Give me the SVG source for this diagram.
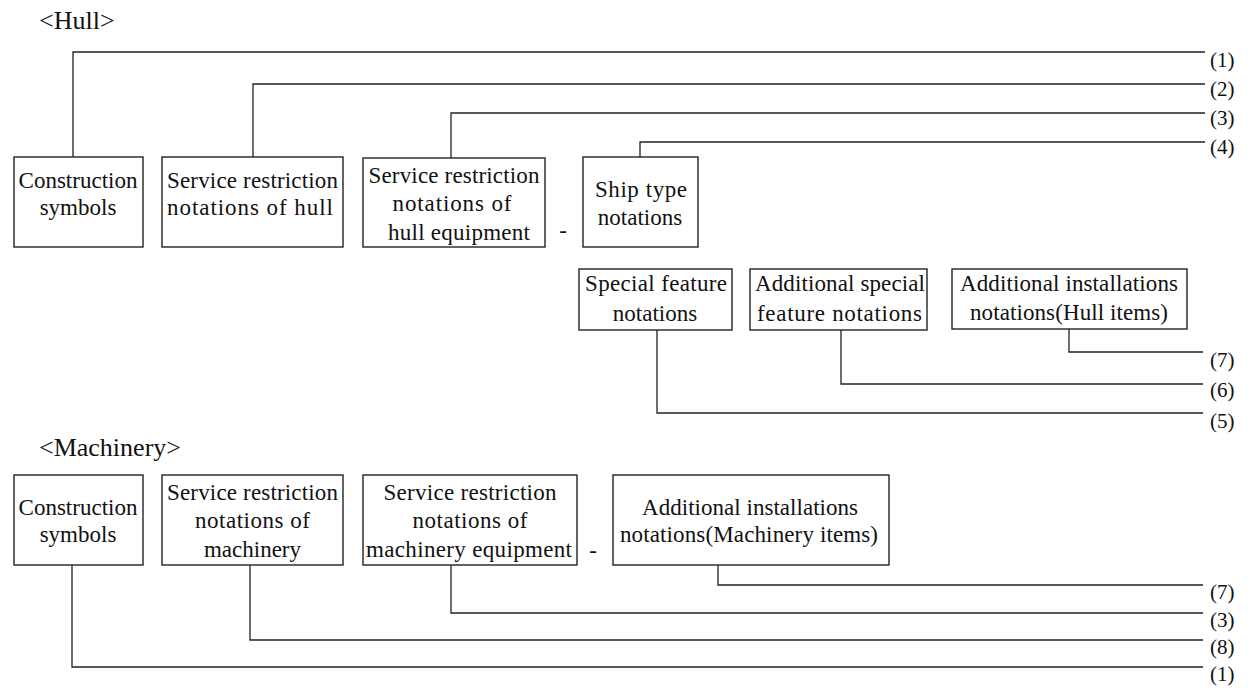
<svg xmlns="http://www.w3.org/2000/svg" width="1254" height="699" viewBox="0 0 1254 699" font-family="'Liberation Serif', 'DejaVu Serif', serif">
<style>
text{font-family:'Liberation Serif','DejaVu Serif',serif;fill:#111}
.t{font-size:23px;text-anchor:middle}
.h{font-size:26px}
.l{font-size:21px}
.d{font-size:23px;text-anchor:middle}
rect{fill:#fff;stroke:#222;stroke-width:1.4}
#connectors path{fill:none;stroke:#222;stroke-width:1.3}
</style>
<rect x="0" y="0" width="1254" height="699" style="fill:#fff;stroke:none"/>
<text class="h" x="39" y="29">&lt;Hull&gt;</text>
<text class="h" x="39" y="456">&lt;Machinery&gt;</text>

<g id="connectors">
<path d="M73,157V52H1205"/>
<path d="M253,157V84H1205"/>
<path d="M451,158V113H1205"/>
<path d="M640,157V142H1205"/>
<path d="M1069,329V352H1203"/>
<path d="M841,330V384H1203"/>
<path d="M657,330V413H1203"/>
<path d="M718,565V585H1203"/>
<path d="M451,565V613H1203"/>
<path d="M250,565V640H1203"/>
<path d="M72,565V667H1203"/>
</g>

<g id="labels">
<text class="l" x="1210" y="67">(1)</text>
<text class="l" x="1210" y="96">(2)</text>
<text class="l" x="1210" y="125">(3)</text>
<text class="l" x="1210" y="154">(4)</text>
<text class="l" x="1210" y="367">(7)</text>
<text class="l" x="1210" y="397">(6)</text>
<text class="l" x="1210" y="428">(5)</text>
<text class="l" x="1210" y="599">(7)</text>
<text class="l" x="1210" y="627">(3)</text>
<text class="l" x="1210" y="654">(8)</text>
<text class="l" x="1210" y="681">(1)</text>
</g>

<text class="d" x="563" y="238">-</text>
<text class="d" x="593" y="558">-</text>

<g id="hull-construction">
<rect x="14" y="157" width="129" height="90"/>
<text class="t" x="78" y="188">Construction</text>
<text class="t" x="78" y="215">symbols</text>
</g>
<g id="hull-service-restriction">
<rect x="162" y="157" width="181" height="90"/>
<text class="t" x="252.5" y="188" textLength="171">Service restriction</text>
<text class="t" x="250" y="215" textLength="166">notations of hull</text>
</g>
<g id="hull-equipment">
<rect x="363" y="158" width="182" height="89"/>
<text class="t" x="454" y="183" textLength="171">Service restriction</text>
<text class="t" x="452" y="211" textLength="119">notations of</text>
<text class="t" x="459" y="240" textLength="142">hull equipment</text>
</g>
<g id="hull-ship-type">
<rect x="583" y="157" width="115" height="90"/>
<text class="t" x="641" y="197" textLength="92">Ship type</text>
<text class="t" x="640" y="225">notations</text>
</g>
<g id="hull-special-feature">
<rect x="579" y="269" width="153" height="61"/>
<text class="t" x="656" y="291" textLength="142">Special feature</text>
<text class="t" x="655" y="321">notations</text>
</g>
<g id="hull-additional-special">
<rect x="750" y="269" width="177" height="61"/>
<text class="t" x="840" y="291" textLength="170">Additional special</text>
<text class="t" x="839.5" y="321" textLength="165">feature notations</text>
</g>
<g id="hull-additional-installations">
<rect x="952" y="269" width="235" height="60"/>
<text class="t" x="1069" y="291" textLength="218">Additional installations</text>
<text class="t" x="1069" y="320" textLength="198">notations(Hull items)</text>
</g>

<g id="mach-construction">
<rect x="14" y="475" width="129" height="90"/>
<text class="t" x="78" y="515">Construction</text>
<text class="t" x="78" y="542">symbols</text>
</g>
<g id="mach-service-restriction">
<rect x="162" y="475" width="181" height="90"/>
<text class="t" x="252.5" y="500" textLength="171">Service restriction</text>
<text class="t" x="252.5" y="528" textLength="115">notations of</text>
<text class="t" x="252.5" y="557">machinery</text>
</g>
<g id="mach-equipment">
<rect x="363" y="475" width="214" height="90"/>
<text class="t" x="470" y="500" textLength="173">Service restriction</text>
<text class="t" x="470" y="528" textLength="115">notations of</text>
<text class="t" x="469" y="557" textLength="206">machinery equipment</text>
</g>
<g id="mach-additional-installations">
<rect x="613" y="475" width="276" height="90"/>
<text class="t" x="750" y="515" textLength="216">Additional installations</text>
<text class="t" x="749" y="542" textLength="258">notations(Machinery items)</text>
</g>
</svg>
